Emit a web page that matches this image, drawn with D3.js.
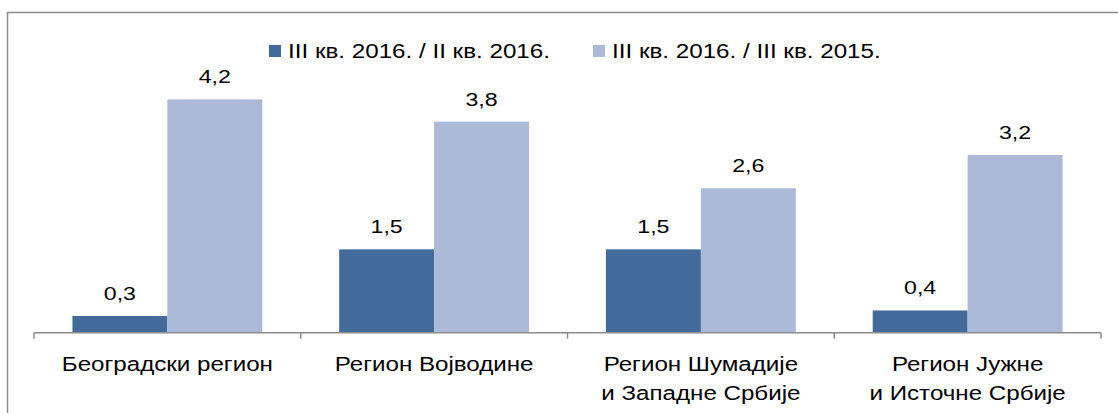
<!DOCTYPE html>
<html>
<head>
<meta charset="utf-8">
<script src="https://cdn.jsdelivr.net/npm/d3@7"></script>
<style>
  body { margin: 0; background: #fff; }
  svg { display: block; font-family: "Liberation Sans", Arial, sans-serif; }
</style>
</head>
<body>
<div id="chart"></div>
<script>
// Data
const categories = [
    ['Београдски регион'],
    ['Регион Војводине'],
    ['Регион Шумадије', 'и Западне Србије'],
    ['Регион Јужне', 'и Источне Србије']
];
const seriesNames = ['III кв. 2016. / II кв. 2016.', 'III кв. 2016. / III кв. 2015.'];
const quarterOnQuarter = [0.3, 1.5, 1.5, 0.4];
const yearOnYear = [4.2, 3.8, 2.6, 3.2];
const colors = ['#426A9B', '#AABAD7'];

const width = 1118, height = 413;
const svg = d3.select('#chart')
    .append('svg')
    .attr('width', width)
    .attr('height', height);

// text in the original is drawn somewhat wider than the font's own metrics
const stretch = (sel, x, y, s) => sel.attr('transform', `translate(${x},${y}) scale(${s},1)`);

// Outer frame (cropped at right and bottom)
svg.append('rect')
    .attr('x', 7.5).attr('y', 12.5)
    .attr('width', 1200).attr('height', 500)
    .attr('fill', 'none')
    .attr('stroke', '#8c8c8c')
    .attr('stroke-width', 1.5);

const x0 = d3.scaleBand()
    .domain(d3.range(categories.length))
    .range([34, 1101]);

const x1 = d3.scaleBand()
    .domain([0, 1])
    .range([0, x0.bandwidth()])
    .paddingOuter(0.405);

const y = d3.scaleLinear()
    .domain([0, 4.5])
    .range([332.7, 82.7]);

const series = [quarterOnQuarter, yearOnYear];

// Bars + value labels
series.forEach((vals, si) => {
    const g = svg.append('g');
    g.selectAll('rect')
        .data(vals)
        .join('rect')
        .attr('x', (d, i) => x0(i) + x1(si))
        .attr('y', d => y(d))
        .attr('width', x1.bandwidth())
        .attr('height', d => y(0) - y(d))
        .attr('fill', colors[si]);

    g.selectAll('text')
        .data(vals)
        .join('text')
        .attr('text-anchor', 'middle')
        .attr('font-size', 19)
        .attr('fill', '#000')
        .each(function (d, i) {
            stretch(d3.select(this), x0(i) + x1(si) + x1.bandwidth() / 2, y(d) - 16, 1.22);
        })
        .text(d => d3.format('.1f')(d).replace('.', ','));
});

// Category axis
const axis = svg.append('g')
    .attr('transform', `translate(0,${y(0)})`)
    .call(d3.axisBottom(x0).tickSize(0).tickFormat(''));
axis.select('.domain')
    .attr('stroke', '#8c8c8c')
    .attr('stroke-width', 1.5)
    .attr('d', `M${x0.range()[0]},0H${x0.range()[1]}`);

// separators between categories
const bounds = d3.range(categories.length + 1).map(i => x0.range()[0] + i * x0.step());
axis.selectAll('.sep')
    .data(bounds)
    .join('line')
    .attr('class', 'sep')
    .attr('x1', d => d).attr('x2', d => d)
    .attr('y1', 0).attr('y2', 6)
    .attr('stroke', '#8c8c8c')
    .attr('stroke-width', 1.5);

// Category labels
categories.forEach((lines, i) => {
    const cx = x0(i) + x0.bandwidth() / 2;
    lines.forEach((ln, j) => {
        const t = svg.append('text')
            .attr('text-anchor', 'middle')
            .attr('font-size', 21)
            .attr('fill', '#000')
            .text(ln);
        stretch(t, cx, 371 + j * 28.5, 1.15);
    });
});

// Legend
const legendX = [269, 593];
seriesNames.forEach((name, i) => {
    const lg = svg.append('g').attr('transform', `translate(${legendX[i]},45)`);
    lg.append('rect')
        .attr('width', 12).attr('height', 12)
        .attr('fill', colors[i]);
    const t = lg.append('text')
        .attr('font-size', 20)
        .attr('fill', '#000')
        .text(name);
    stretch(t, 19, 12.5, 1.21);
});
</script>
</body>
</html>
